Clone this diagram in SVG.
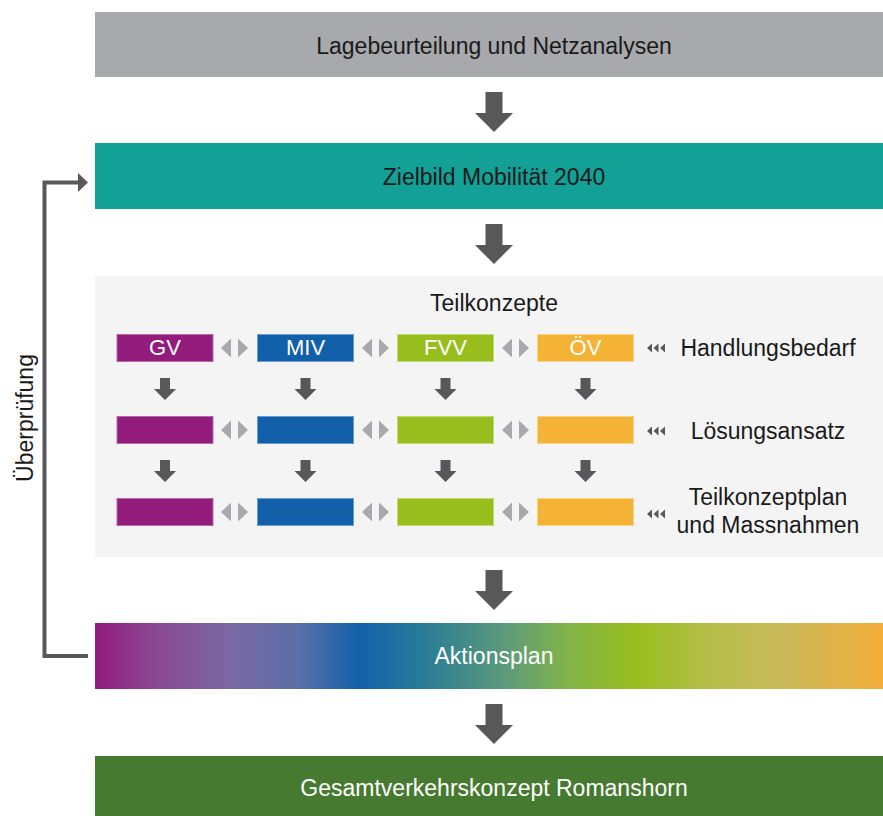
<svg xmlns="http://www.w3.org/2000/svg" width="883" height="816" viewBox="0 0 883 816">
<style>
.t{font-family:"Liberation Sans",Arial,sans-serif;font-size:23px;text-anchor:middle}
.dk{fill:#1a1a1a}
.wh{fill:#ffffff}
.bl{font-family:"Liberation Sans",Arial,sans-serif;font-size:22px;text-anchor:middle;fill:#ffffff}
.ar{fill:#58585a}
.ga{fill:#a7a9ac}
.gv{fill:#931b7b;stroke:#b56aa6;stroke-width:1}
.miv{fill:#1260aa;stroke:#6b9bcc;stroke-width:1}
.fvv{fill:#98be1e;stroke:#c2d978;stroke-width:1}
.ov{fill:#f5b335;stroke:#f9d28a;stroke-width:1}
</style>
<defs>
<path id="bigArrow" d="M-8.5,0 H8.5 V21 H19 L0,40 L-19,21 H-8.5 Z"/>
<path id="smallArrow" d="M-5,0 H5 V11 H11 L0,22 L-11,11 H-5 Z"/>
<g id="dbl"><polygon points="0,0 10,-9.5 10,9.5"/><polygon points="17,-9.5 27,0 17,9.5"/></g>
<g id="tri"><polygon points="0,0 5,-4.5 5,4.5"/><polygon points="6.5,0 11.5,-4.5 11.5,4.5"/><polygon points="13,0 18,-4.5 18,4.5"/></g>
<linearGradient id="rainbow" x1="0" y1="0" x2="1" y2="0">
<stop offset="0" stop-color="#921b7e"/>
<stop offset="0.08" stop-color="#8a4a92"/>
<stop offset="0.17" stop-color="#7a68a3"/>
<stop offset="0.26" stop-color="#5a6fa8"/>
<stop offset="0.335" stop-color="#1261ab"/>
<stop offset="0.42" stop-color="#2a7d96"/>
<stop offset="0.52" stop-color="#5c9a7a"/>
<stop offset="0.6" stop-color="#82b448"/>
<stop offset="0.687" stop-color="#98be1e"/>
<stop offset="0.78" stop-color="#b6bd4a"/>
<stop offset="0.87" stop-color="#c9b95a"/>
<stop offset="1" stop-color="#f2ac38"/>
</linearGradient>
</defs>

<g id="lage">
<rect x="95" y="12" width="788" height="65" fill="#a7a9ac"/>
<text class="t dk" x="494" y="54">Lagebeurteilung und Netzanalysen</text>
</g>
<g id="zielbild">
<rect x="95" y="143" width="788" height="66" fill="#12a097"/>
<text class="t dk" x="494" y="185">Zielbild Mobilität 2040</text>
</g>
<g id="teilkonzepte">
<rect x="95" y="276" width="788" height="281" fill="#f4f4f4"/>
<text class="t dk" x="494" y="311">Teilkonzepte</text>
</g>

<g id="gv1"><rect class="gv" x="117" y="334.5" width="96" height="27"/><text class="bl" x="165" y="355">GV</text></g>
<g id="miv1"><rect class="miv" x="257.5" y="334.5" width="96" height="27"/><text class="bl" x="305.5" y="355">MIV</text></g>
<g id="fvv1"><rect class="fvv" x="397.5" y="334.5" width="96" height="27"/><text class="bl" x="445.5" y="355">FVV</text></g>
<g id="ov1"><rect class="ov" x="537.5" y="334.5" width="96" height="27"/><text class="bl" x="585.5" y="355">ÖV</text></g>

<g id="gv2"><rect class="gv" x="117" y="416.5" width="96" height="27"/></g>
<g id="miv2"><rect class="miv" x="257.5" y="416.5" width="96" height="27"/></g>
<g id="fvv2"><rect class="fvv" x="397.5" y="416.5" width="96" height="27"/></g>
<g id="ov2"><rect class="ov" x="537.5" y="416.5" width="96" height="27"/></g>

<g id="gv3"><rect class="gv" x="117" y="498.5" width="96" height="27"/></g>
<g id="miv3"><rect class="miv" x="257.5" y="498.5" width="96" height="27"/></g>
<g id="fvv3"><rect class="fvv" x="397.5" y="498.5" width="96" height="27"/></g>
<g id="ov3"><rect class="ov" x="537.5" y="498.5" width="96" height="27"/></g>

<g id="labels">
<text class="t dk" x="768" y="356">Handlungsbedarf</text>
<text class="t dk" x="768" y="439">Lösungsansatz</text>
<text class="t dk" x="768" y="505">Teilkonzeptplan</text>
<text class="t dk" x="768" y="533">und Massnahmen</text>
</g>

<g id="aktionsplan">
<rect x="95" y="623" width="788" height="66" fill="url(#rainbow)"/>
<text class="t wh" x="494" y="664">Aktionsplan</text>
</g>
<g id="gesamt">
<rect x="95" y="756" width="788" height="60" fill="#467a30"/>
<text class="t wh" x="494" y="796">Gesamtverkehrskonzept Romanshorn</text>
</g>

<g id="ueberpruefung">
<text class="t dk" transform="translate(33,418) rotate(-90)" x="0" y="0">Überprüfung</text>
</g>

<g id="connectors">
<use href="#bigArrow" class="ar" x="494" y="92"/>
<use href="#bigArrow" class="ar" x="494" y="224"/>
<use href="#bigArrow" class="ar" x="494" y="570"/>
<use href="#bigArrow" class="ar" x="494" y="704"/>

<use href="#smallArrow" class="ar" x="165" y="378"/>
<use href="#smallArrow" class="ar" x="305.5" y="378"/>
<use href="#smallArrow" class="ar" x="445.5" y="378"/>
<use href="#smallArrow" class="ar" x="585.5" y="378"/>
<use href="#smallArrow" class="ar" x="165" y="460"/>
<use href="#smallArrow" class="ar" x="305.5" y="460"/>
<use href="#smallArrow" class="ar" x="445.5" y="460"/>
<use href="#smallArrow" class="ar" x="585.5" y="460"/>

<use href="#dbl" class="ga" x="221" y="348"/>
<use href="#dbl" class="ga" x="362" y="348"/>
<use href="#dbl" class="ga" x="502" y="348"/>
<use href="#dbl" class="ga" x="221" y="430"/>
<use href="#dbl" class="ga" x="362" y="430"/>
<use href="#dbl" class="ga" x="502" y="430"/>
<use href="#dbl" class="ga" x="221" y="512"/>
<use href="#dbl" class="ga" x="362" y="512"/>
<use href="#dbl" class="ga" x="502" y="512"/>

<use href="#tri" class="ar" x="647" y="348"/>
<use href="#tri" class="ar" x="647" y="431"/>
<use href="#tri" class="ar" x="647" y="514"/>

<path d="M88,656 H44.5 V182.5 H79" fill="none" stroke="#58585a" stroke-width="4"/>
<polygon class="ar" points="78,173 88,182.5 78,192"/>
</g>
</svg>
